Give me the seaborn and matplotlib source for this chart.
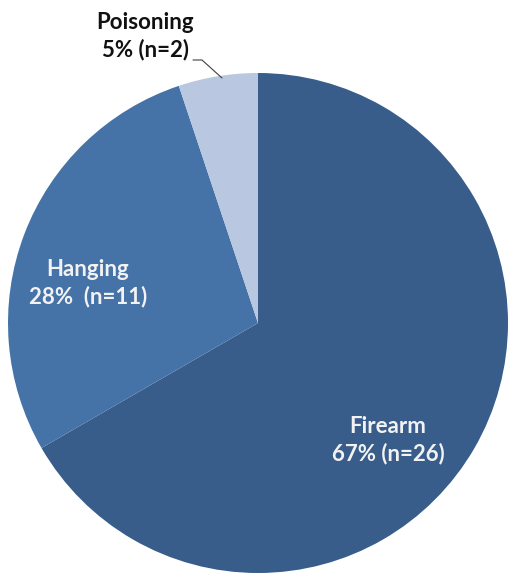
import matplotlib
matplotlib.use("Agg")
import matplotlib.pyplot as plt
import seaborn as sns

# Method breakdown
methods = ["Firearm", "Hanging", "Poisoning"]
counts = [26, 11, 2]
slice_colors = ["#385D8A", "#4573A8", "#B9C7E1"]

sns.set_theme(style="white")
plt.rcParams["font.family"] = ["Lato", "DejaVu Sans"]

W, H = 512, 578
fig = plt.figure(figsize=(W / 100, H / 100), dpi=100)
cx, cy, r = 258, 323, 250
ax = fig.add_axes([(cx - r) / W, (H - cy - r) / H, 2 * r / W, 2 * r / H])
ax.axis("off")

ax.pie(counts, colors=slice_colors, startangle=90, counterclock=False,
       radius=1, center=(0, 0), frame=False,
       wedgeprops=dict(edgecolor="none", linewidth=0))
ax.set_xlim(-1, 1)
ax.set_ylim(-1, 1)

total = sum(counts)
pct = [round(100 * c / total) for c in counts]


def px(x, y):
    return (x - cx) / r, (cy - y) / r


fs = 16
x, y = px(388, 440)
ax.text(x, y, f"{methods[0]}\n{pct[0]}% (n={counts[0]})", ha="center", va="center",
        color="#F2F2F2", fontsize=fs, fontweight="bold", linespacing=1.3, clip_on=False)
x, y = px(88, 283)
ax.text(x, y, f"{methods[1]}\n{pct[1]}%  (n={counts[1]})", ha="center", va="center",
        color="#F2F2F2", fontsize=fs, fontweight="bold", linespacing=1.3, clip_on=False)
x, y = px(145, 36)
ax.text(x, y, f"{methods[2]}\n{pct[2]}% (n={counts[2]})", ha="center", va="center",
        color="#111111", fontsize=fs, fontweight="bold", linespacing=1.3, clip_on=False)

# leader line for the small slice
pts = [px(193, 60), px(202, 60), px(222, 78)]
ax.plot([p[0] for p in pts], [p[1] for p in pts], color="#404040", lw=0.8, clip_on=False)

fig.savefig("out.png", dpi=100, facecolor="white")
